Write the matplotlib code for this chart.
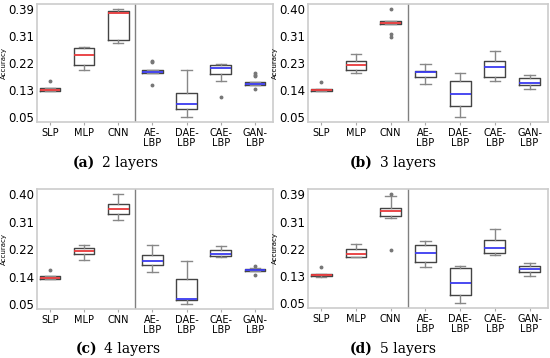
import numpy as np
import matplotlib
matplotlib.use('Agg')
import matplotlib.pyplot as plt

# data (one row per panel, one column per model)
models = ['SLP', 'MLP', 'CNN', 'AE-\nLBP', 'DAE-\nLBP', 'CAE-\nLBP', 'GAN-\nLBP']
captions = [('(a)', '2 layers'), ('(b)', '3 layers'), ('(c)', '4 layers'), ('(d)', '5 layers')]

medians = [[0.136, 0.246, 0.380, 0.193, 0.092, 0.205, 0.155],
           [0.138, 0.220, 0.355, 0.197, 0.125, 0.214, 0.160],
           [0.134, 0.219, 0.354, 0.188, 0.065, 0.210, 0.158],
           [0.137, 0.204, 0.338, 0.208, 0.114, 0.221, 0.156]]
q1 = [[0.134, 0.214, 0.292, 0.189, 0.075, 0.185, 0.153],
      [0.135, 0.202, 0.351, 0.180, 0.085, 0.181, 0.156],
      [0.131, 0.211, 0.338, 0.174, 0.064, 0.202, 0.155],
      [0.134, 0.194, 0.322, 0.180, 0.076, 0.208, 0.148]]
q3 = [[0.141, 0.267, 0.384, 0.199, 0.125, 0.215, 0.161],
      [0.143, 0.232, 0.363, 0.201, 0.168, 0.232, 0.176],
      [0.140, 0.228, 0.370, 0.206, 0.130, 0.222, 0.161],
      [0.141, 0.220, 0.349, 0.233, 0.161, 0.248, 0.167]]
whis_lo = [[0.133, 0.200, 0.283, 0.189, 0.051, 0.163, 0.153],
           [0.135, 0.194, 0.351, 0.157, 0.051, 0.167, 0.142],
           [0.131, 0.192, 0.320, 0.154, 0.051, 0.200, 0.155],
           [0.133, 0.194, 0.316, 0.163, 0.051, 0.202, 0.135]]
whis_hi = [[0.141, 0.271, 0.392, 0.200, 0.198, 0.218, 0.162],
           [0.143, 0.256, 0.363, 0.222, 0.194, 0.265, 0.187],
           [0.140, 0.238, 0.400, 0.238, 0.186, 0.234, 0.165],
           [0.141, 0.234, 0.385, 0.243, 0.165, 0.281, 0.177]]
fliers = [[[0.164], [], [], [0.228, 0.223, 0.152], [], [0.115], [0.190, 0.184, 0.179, 0.140]],
          [[0.165], [], [0.400, 0.321, 0.310], [], [], [], []],
          [[0.160], [], [], [], [], [], [0.170, 0.144]],
          [[0.163], [], [0.391, 0.216], [], [], [], []]]
ytick_labels = [['0.05', '0.13', '0.22', '0.31', '0.39'],
                ['0.05', '0.14', '0.23', '0.31', '0.40'],
                ['0.05', '0.14', '0.22', '0.31', '0.40'],
                ['0.05', '0.13', '0.22', '0.31', '0.39']]
ymax = [0.39, 0.40, 0.40, 0.39]

fig = plt.figure(figsize=(5.5, 3.58), dpi=100)
W, H = 550.0, 358.0
# axes boxes in pixels: left, top, right, bottom
boxes = [(37, 4, 273, 122), (308, 4, 548, 122), (37, 189, 273, 309), (308, 189, 548, 308)]
cap_pos = [(122, 163), (400, 163), (124, 349), (400, 349)]

red = '#e8383a'
blue = '#3a3af0'
for i in range(4):
    l, t, r, b = boxes[i]
    ax = fig.add_axes([l / W, 1 - b / H, (r - l) / W, (b - t) / H])
    stats = []
    for j in range(7):
        stats.append(dict(med=medians[i][j], q1=q1[i][j], q3=q3[i][j],
                          whislo=whis_lo[i][j], whishi=whis_hi[i][j],
                          fliers=fliers[i][j]))
    bp = ax.bxp(stats, positions=np.arange(1, 8), widths=0.6, showfliers=True,
                boxprops=dict(color='#444444', lw=1.0),
                whiskerprops=dict(color='#888888', lw=1.0),
                capprops=dict(color='#888888', lw=1.0),
                flierprops=dict(marker='o', markersize=1.8, markerfacecolor='#777777',
                                markeredgecolor='#777777'))
    for j, m in enumerate(bp['medians']):
        m.set_color(red if j < 3 else blue)
        m.set_linewidth(1.3)
    ax.axvline(3.5, color='#808080', lw=1.0)
    lo = 0.05
    hi = ymax[i]
    span = hi - lo
    ax.set_ylim(lo - span * 0.045, hi + span * 0.05)
    ax.set_xlim(0.62, 7.53)
    ax.set_yticks(np.linspace(lo, hi, 5))
    ax.set_yticklabels(ytick_labels[i], fontsize=8.5)
    ax.set_xticks(np.arange(1, 8))
    ax.set_xticklabels(models, fontsize=7, linespacing=1.0)
    ax.tick_params(axis='y', length=0, pad=2)
    ax.tick_params(axis='x', length=2, color='#aaaaaa', pad=2)
    ax.set_ylabel('Accuracy', fontsize=5, labelpad=1)
    for s in ax.spines.values():
        s.set_color('#cccccc')
        s.set_linewidth(1.2)
    cx, cy = cap_pos[i]
    fig.text((cx - 27) / W, 1 - cy / H, captions[i][0], fontsize=10, fontweight='bold',
             family='DejaVu Serif', ha='right', va='center')
    fig.text((cx - 20) / W, 1 - cy / H, captions[i][1], fontsize=10,
             family='DejaVu Serif', ha='left', va='center')

plt.savefig('out.png', dpi=100, facecolor='w')
